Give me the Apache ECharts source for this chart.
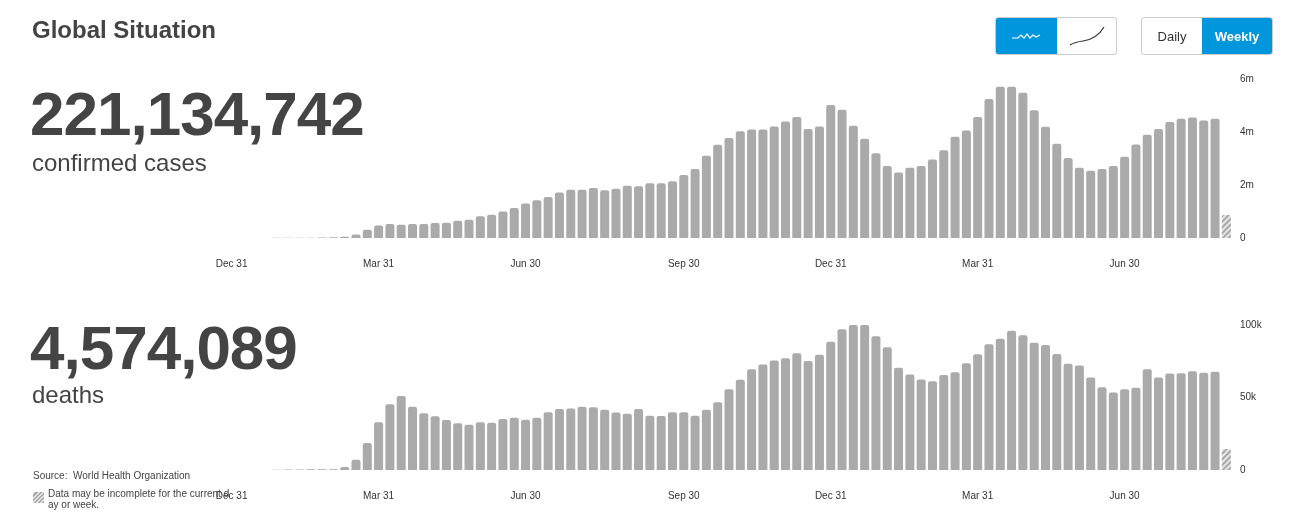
<!DOCTYPE html>
<html>
<head>
<meta charset="utf-8">
<script src="https://cdn.jsdelivr.net/npm/echarts@6/dist/echarts.min.js"></script>
<style>
  body { margin: 0; background: #fff; font-family: "Liberation Sans", Arial, sans-serif; color: #444; }
  #wrap { position: relative; width: 1297px; height: 529px; overflow: hidden; }
  #chart { position: absolute; left: 0; top: 0; width: 1297px; height: 529px; }
  .t { position: absolute; white-space: nowrap; }
  .btns { position: absolute; top: 17px; height: 36px; display: flex; border: 1px solid #ccc; border-radius: 3px; overflow: hidden; }
  .btns div { display: flex; align-items: center; justify-content: center; font-size: 13px; color: #333; }
  .btns .on { background: #0096db; color: #fff; font-weight: bold; }
</style>
</head>
<body>
<div id="wrap">
  <div id="chart"></div>
  <div class="t" style="left:32px;top:16px;font-size:24px;font-weight:bold;">Global Situation</div>
  <div class="t" style="left:30px;top:78px;font-size:62px;font-weight:bold;letter-spacing:-1px;">221,134,742</div>
  <div class="t" style="left:32px;top:149px;font-size:24px;">confirmed cases</div>
  <div class="t" style="left:30px;top:312px;font-size:62px;font-weight:bold;letter-spacing:-1px;">4,574,089</div>
  <div class="t" style="left:32px;top:381px;font-size:24px;">deaths</div>
  <div class="t" style="left:33px;top:470px;font-size:10px;color:#444;">Source:&nbsp; World Health Organization</div>
  <div class="t" style="left:33px;top:492px;width:11px;height:11px;background:repeating-linear-gradient(-45deg,#aaa 0 1.5px,#e4e4e4 1.5px 3px);"></div>
  <div class="t" style="left:48px;top:488px;font-size:10px;line-height:11px;color:#444;width:182px;height:24px;overflow:hidden;white-space:normal;word-break:break-all;">Data may be incomplete for the current day or week.</div>

  <div class="btns" style="left:995px;width:120px;">
    <div class="on" style="width:61px;height:36px;"><svg width="34" height="12"><path d="M2 8 L8 8 L11 5 L14 8 L17 4 L20 8 L23 5 L26 7 L30 5" fill="none" stroke="#fff" stroke-width="1.2"/></svg></div>
    <div style="width:59px;height:36px;"><svg width="40" height="26"><path d="M3 22 Q8 19 16 18 Q30 16 37 4" fill="none" stroke="#333" stroke-width="1.2"/></svg></div>
  </div>
  <div class="btns" style="left:1141px;width:130px;">
    <div style="width:60px;height:36px;">Daily</div>
    <div class="on" style="width:70px;height:36px;">Weekly</div>
  </div>
</div>
<script>
// weekly categories: 4 empty lead weeks, then 85 weeks of data
const leadWeeks = 4

const tickIndex = [0, 13, 26, 40, 53, 66, 79]
const tickLabels = ['Dec 31', 'Mar 31', 'Jun 30', 'Sep 30', 'Dec 31', 'Mar 31', 'Jun 30']

// confirmed cases per week (millions), last value incomplete
const cases = [
  0.01, 0.01, 0.01, 0.01, 0.02, 0.03, 0.05,
  0.13, 0.31, 0.47, 0.53, 0.5, 0.53, 0.53, 0.57, 0.58, 0.65, 0.69, 0.82, 0.88, 1.0,
  1.13, 1.3, 1.42, 1.55, 1.72, 1.82, 1.82, 1.89, 1.8, 1.86, 1.97, 1.95, 2.07, 2.07,
  2.14, 2.38, 2.6, 3.1, 3.52, 3.77,
  4.03, 4.09, 4.09, 4.21, 4.4, 4.57, 4.11, 4.21, 5.02, 4.84, 4.24, 3.75, 3.2, 2.72,
  2.47, 2.65, 2.72, 2.96, 3.31, 3.82, 4.06, 4.57, 5.25, 5.71, 5.71, 5.48, 4.82, 4.2,
  3.56, 3.02, 2.65, 2.54, 2.6, 2.72, 3.07, 3.53, 3.9, 4.11, 4.38, 4.5, 4.55, 4.43, 4.5,
  0.87
]

// deaths per week (thousands), last value incomplete
const deaths = [
  0.2, 0.3, 0.4, 0.5, 0.5, 0.6,
  2, 7, 18.6, 33, 45.4, 51, 43.6, 39.2, 37, 34.4, 32.3, 31.2, 33, 32.6, 35.1, 36, 34.6,
  36, 39.9, 42, 42.4, 43.6, 43.3, 41.5, 39.7, 38.8, 42, 37.4, 37.2, 39.9, 39.9, 37.4,
  41.5, 46.8, 55.7,
  62.2, 69.5, 72.7, 75.5, 77, 80.5, 75.2, 79.4, 88.5, 97, 100.5, 100.5, 92.2, 84.6,
  70.6, 65.8, 62.4, 61.2, 65.6, 67.4, 73.6, 79.8, 86.7, 90.6, 96.1, 92.9, 87.8, 86.2,
  80, 73.2, 72, 63.8, 57.1, 53.4, 55.7, 56.7, 69.5, 63.8, 66.5, 66.7, 68.1, 67, 67.7,
  14.4
]

const total = leadWeeks + cases.length
const categories = []
for (let i = 0; i < total; i++) categories.push('w' + i)

function pad(arr, scale) {
  const out = []
  for (let i = 0; i < leadWeeks; i++) out.push(null)
  arr.forEach((v, i) => {
    const last = i === arr.length - 1
    out.push(last ? {
      value: v * scale,
      itemStyle: {
        color: '#e6e6e6',
        decal: { symbol: 'rect', color: '#a8a8a8', dashArrayX: [1, 0], dashArrayY: [1.5, 2], rotation: -Math.PI / 4 }
      }
    } : v * scale)
  })
  return out
}

function xAxis(gridIndex) {
  return {
    type: 'category', gridIndex, data: categories,
    axisLine: { show: false }, axisTick: { show: false },
    axisLabel: {
      interval: (i) => tickIndex.indexOf(i) >= 0,
      formatter: (v, i) => tickLabels[tickIndex.indexOf(i)],
      color: '#333', fontSize: 10, margin: 21, fontFamily: 'Liberation Sans'
    }
  }
}

function yAxis(gridIndex, max, interval, fmt) {
  return {
    type: 'value', gridIndex, position: 'right', min: 0, max, interval,
    splitLine: { show: false },
    axisLabel: { color: '#333', fontSize: 10, margin: 8, formatter: fmt, fontFamily: 'Liberation Sans' }
  }
}

const chart = echarts.init(document.getElementById('chart'))
chart.setOption({
  animation: false,
  grid: [
    { left: 226, right: 65, top: 79, height: 159 },
    { left: 226, right: 65, top: 325, height: 145 }
  ],
  xAxis: [xAxis(0), xAxis(1)],
  yAxis: [
    yAxis(0, 6000000, 2000000, (v) => v === 0 ? '0' : v / 1000000 + 'm'),
    yAxis(1, 100000, 50000, (v) => v === 0 ? '0' : v / 1000 + 'k')
  ],
  series: [
    { type: 'bar', xAxisIndex: 0, yAxisIndex: 0, data: pad(cases, 1000000), barWidth: 9,
      itemStyle: { color: '#aaaaaa', borderRadius: [2, 2, 0, 0] } },
    { type: 'bar', xAxisIndex: 1, yAxisIndex: 1, data: pad(deaths, 1000), barWidth: 9,
      itemStyle: { color: '#aaaaaa', borderRadius: [2, 2, 0, 0] } }
  ]
})
</script>
</body>
</html>
